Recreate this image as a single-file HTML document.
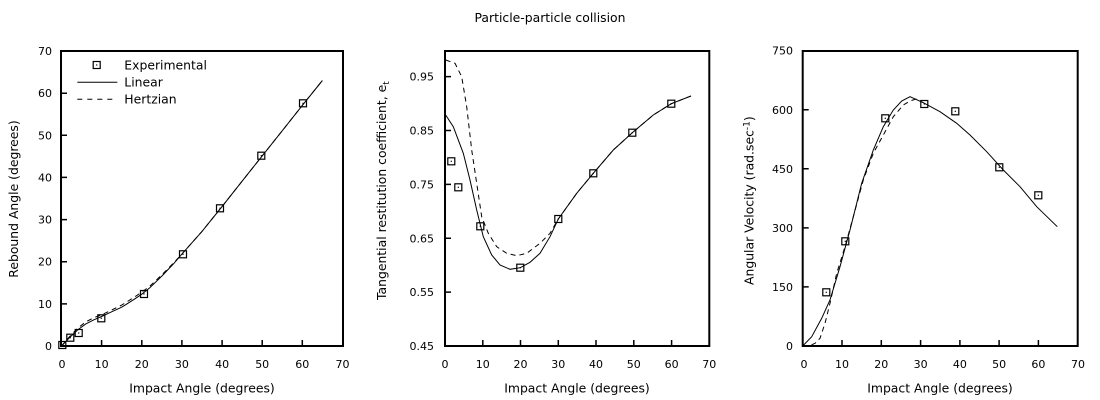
<!DOCTYPE html>
<html><head><meta charset="utf-8"><style>
html,body{margin:0;padding:0;background:#fff;}
svg{display:block;}
text{font-family:"DejaVu Sans","Liberation Sans",sans-serif;font-size:11px;fill:#000;}
text.lb{font-size:12.4px;}
</style></head><body>
<svg width="1100" height="400" viewBox="0 0 1100 400" xmlns="http://www.w3.org/2000/svg">
<defs>
<g id="mk"><rect x="-3.5" y="-3.5" width="7" height="7" fill="none" stroke="#000" stroke-width="1.2"/><rect x="-0.6" y="-0.6" width="1.2" height="1.2" fill="#000"/></g>
</defs>
<text class="lb" x="550" y="22" text-anchor="middle">Particle-particle collision</text>

<!-- Panel 1 -->
<g fill="none" stroke="#000">
<rect x="61" y="51" width="282" height="295" stroke-width="2"/>
<path stroke-width="1.5" d="M101.6 346v-6M141.8 346v-6M181.9 346v-6M222.1 346v-6M262.2 346v-6M302.3 346v-6M61 303.9h6M61 261.7h6M61 219.6h6M61 177.4h6M61 135.3h6M61 93.2h6"/>
<polyline stroke-width="1" points="61.5,346 69.5,337.6 77.6,330.0 85.6,324.1 93.6,319.9 101.6,316.5 109.7,312.7 121.7,307.2 133.8,299.6 141.8,294.2 149.8,287.8 161.9,276.0 173.9,263.4 181.9,254.1 202.0,231.4 222.1,206.5 242.1,181.2 262.2,155.9 282.3,130.7 302.3,105.4 322.4,80.5"/>
<polyline stroke-width="1" stroke-dasharray="5,4" points="61.5,346 69.5,336.7 77.6,328.3 85.6,322.0 93.6,317.8 101.6,314.8 109.7,311.0 121.7,305.1 133.8,297.5 141.8,292.1 149.8,286.2 161.9,274.8 173.9,262.6 181.9,254.1 202.0,231.4 222.1,206.5 242.1,181.2 262.2,155.9 282.3,130.7 302.3,105.4 322.4,80.5"/>
<line x1="77.3" y1="82.3" x2="117.3" y2="82.3" stroke-width="1"/>
<line x1="77.3" y1="99.3" x2="117.3" y2="99.3" stroke-width="1" stroke-dasharray="5,5"/>
</g>
<use href="#mk" x="96.7" y="65"/>
<use href="#mk" x="62.3" y="345"/><use href="#mk" x="70.3" y="337.7"/><use href="#mk" x="78.7" y="333"/><use href="#mk" x="101.3" y="318.3"/><use href="#mk" x="144" y="294"/><use href="#mk" x="183" y="254.3"/><use href="#mk" x="220" y="208.3"/><use href="#mk" x="261.3" y="155.7"/><use href="#mk" x="303" y="103.3"/>
<text class="lb" x="124.3" y="69.5">Experimental</text>
<text class="lb" x="124.3" y="86.5">Linear</text>
<text class="lb" x="124.3" y="103.5">Hertzian</text>
<g text-anchor="end">
<text x="52" y="350">0</text><text x="52" y="307.9">10</text><text x="52" y="265.7">20</text><text x="52" y="223.6">30</text><text x="52" y="181.4">40</text><text x="52" y="139.3">50</text><text x="52" y="97.2">60</text><text x="52" y="55">70</text>
</g>
<g text-anchor="middle">
<text x="62" y="368">0</text><text x="101.6" y="368">10</text><text x="141.8" y="368">20</text><text x="181.9" y="368">30</text><text x="222.1" y="368">40</text><text x="262.2" y="368">50</text><text x="302.3" y="368">60</text><text x="342.5" y="368">70</text>
<text class="lb" x="202" y="392.5">Impact Angle (degrees)</text>
<text class="lb" transform="translate(18,199) rotate(-90)">Rebound Angle (degrees)</text>
</g>

<!-- Panel 2 -->
<g fill="none" stroke="#000">
<rect x="445" y="51" width="264.3" height="295" stroke-width="2"/>
<path stroke-width="1.5" d="M482.8 346v-6M520.5 346v-6M558.3 346v-6M596 346v-6M633.8 346v-6M671.6 346v-6M445 292.1h6M445 238.3h6M445 184.4h6M445 130.5h6M445 76.6h6"/>
<polyline stroke-width="1" points="445.7,115 453.3,126.7 463.3,153.3 470,180 476.7,210 483.3,236.7 491.7,255 500,265 510,269.3 520.3,267.7 530,262.3 540,253.3 550,236.7 558.3,219 576.7,193.3 593.3,173.3 613.3,150 632.3,132.7 653.3,115 671.3,103.7 691,96"/>
<polyline stroke-width="1" stroke-dasharray="5,4" points="445.7,60 455,63.3 461.7,76.7 466.7,106.7 471.7,150 476.7,183.3 481.7,216.7 488.3,233.3 496.7,246.7 506.7,253.3 516.7,255.7 526.7,253.3 540,243.3 550,233.3 558.3,219 576.7,193.3 593.3,173.3 613.3,150 632.3,132.7 653.3,115 671.3,103.7 691,96"/>
</g>
<use href="#mk" x="451.3" y="161.3"/><use href="#mk" x="458.3" y="187.3"/><use href="#mk" x="480.3" y="226.3"/><use href="#mk" x="520.3" y="267.7"/><use href="#mk" x="558.3" y="219"/><use href="#mk" x="593.3" y="173.3"/><use href="#mk" x="632.3" y="132.7"/><use href="#mk" x="671.3" y="103.7"/>
<g text-anchor="end">
<text x="434" y="350">0.45</text><text x="434" y="296.1">0.55</text><text x="434" y="242.3">0.65</text><text x="434" y="188.4">0.75</text><text x="434" y="134.5">0.85</text><text x="434" y="80.6">0.95</text>
</g>
<g text-anchor="middle">
<text x="445" y="368">0</text><text x="482.8" y="368">10</text><text x="520.5" y="368">20</text><text x="558.3" y="368">30</text><text x="596" y="368">40</text><text x="633.8" y="368">50</text><text x="671.6" y="368">60</text><text x="709.3" y="368">70</text>
<text class="lb" x="577" y="392.5">Impact Angle (degrees)</text>
</g>
<text class="lb" transform="translate(386,300) rotate(-90)">Tangential restitution coefficient, e<tspan font-size="9" dy="3">t</tspan></text>

<!-- Panel 3 -->
<g fill="none" stroke="#000">
<rect x="802.7" y="51" width="275" height="295" stroke-width="2"/>
<path stroke-width="1.5" d="M842 346v-6M881.3 346v-6M920.6 346v-6M959.9 346v-6M999.1 346v-6M1038.4 346v-6M802.7 286.9h6M802.7 227.9h6M802.7 168.8h6M802.7 109.8h6"/>
<polyline stroke-width="1" points="802.7,346 811.7,336.7 821.7,318.3 830,300 840,266.7 850,230 861.7,183.3 873.3,150 883.3,126.7 893.3,110 901.7,101 910,96.7 923.3,102.7 940,111.7 956.7,123.3 970,135 986.7,151.7 1003.3,170 1020,186.7 1036.7,206.7 1057.3,226.7"/>
<polyline stroke-width="1" stroke-dasharray="5,4" points="802.7,346 810,345.5 815,343.3 820,338.3 825,323.3 830,303.3 836.7,273.3 845,246.7 853.3,216.7 863.3,180 873.3,153.3 883.3,135 893.3,116.7 903.3,105 910,101 916,99 923.3,102.7"/>
</g>
<use href="#mk" x="826.3" y="292.3"/><use href="#mk" x="845.3" y="241.3"/><use href="#mk" x="885.3" y="118.3"/><use href="#mk" x="924.3" y="104"/><use href="#mk" x="955.3" y="111.3"/><use href="#mk" x="999.3" y="167.3"/><use href="#mk" x="1038.3" y="195.3"/>
<g text-anchor="end">
<text x="793" y="350">0</text><text x="793" y="290.9">150</text><text x="793" y="231.9">300</text><text x="793" y="172.8">450</text><text x="793" y="113.8">600</text><text x="793" y="54.7">750</text>
</g>
<g text-anchor="middle">
<text x="804" y="368">0</text><text x="842" y="368">10</text><text x="881.3" y="368">20</text><text x="920.6" y="368">30</text><text x="959.9" y="368">40</text><text x="999.1" y="368">50</text><text x="1038.4" y="368">60</text><text x="1078" y="368">70</text>
<text class="lb" x="940" y="392.5">Impact Angle (degrees)</text>
</g>
<text class="lb" transform="translate(753.5,285) rotate(-90)">Angular Velocity (rad.sec<tspan font-size="9" dy="-4">-1</tspan><tspan dy="4">)</tspan></text>
</svg>
</body></html>
